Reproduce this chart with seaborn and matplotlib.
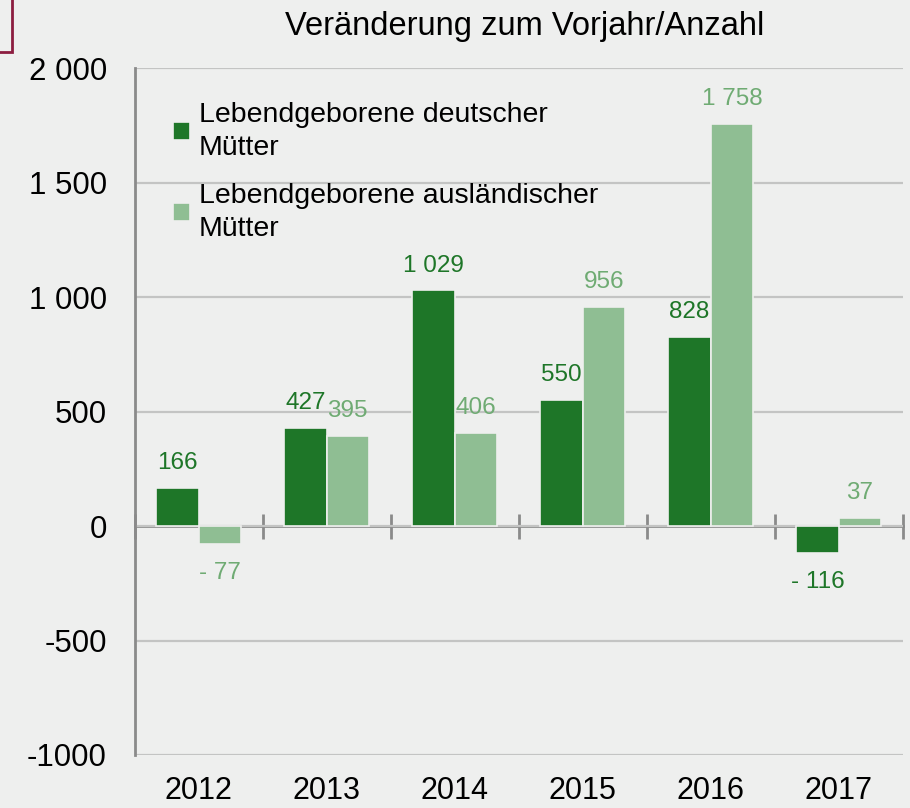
import matplotlib.pyplot as plt
import matplotlib.patches as mpatches
import pandas as pd
import seaborn as sns

# DATA
years = ['2012', '2013', '2014', '2015', '2016', '2017']
deutsche = [166, 427, 1029, 550, 828, -116]
auslaendische = [-77, 395, 406, 956, 1758, 37]
series_names = ['Lebendgeborene deutscher\nMütter', 'Lebendgeborene ausländischer\nMütter']
y_ticks = [-1000, -500, 0, 500, 1000, 1500, 2000]
y_tick_labels = ['-1000', '-500', '0', '500', '1 000', '1 500', '2 000']

BG = '#eeefee'
DARK = '#1e7628'
LIGHT = '#8fbe93'
LABEL_COLORS = [DARK, '#6fab73']


def fmt(v):
    s = f'{abs(v):,}'.replace(',', ' ')
    return f'- {s}' if v < 0 else s


data = pd.DataFrame({
    'Jahr': years * 2,
    'Wert': deutsche + auslaendische,
    'Serie': [series_names[0]] * len(years) + [series_names[1]] * len(years),
})

sns.set_style('white')
plt.rcParams['font.family'] = ['Liberation Sans', 'DejaVu Sans']
plt.rcParams['text.color'] = 'black'
plt.rcParams['xtick.color'] = 'black'
plt.rcParams['ytick.color'] = 'black'

fig = plt.figure(figsize=(9.10, 8.08), dpi=100, facecolor=BG)
ax = fig.add_axes([0.148, 0.0656, 0.844, 0.85])
ax.set_facecolor(BG)

sns.barplot(data=data, x='Jahr', y='Wert', hue='Serie', palette=[DARK, LIGHT], saturation=1,
            width=0.66, edgecolor=BG, linewidth=1.2, ax=ax, zorder=3)

# value labels
for container, color in zip(ax.containers, LABEL_COLORS):
    for bar in container:
        h = bar.get_height()
        cx = bar.get_x() + bar.get_width() / 2
        if h >= 0:
            ax.annotate(fmt(int(round(h))), (cx, h), xytext=(0, 10), textcoords='offset points',
                        ha='center', va='bottom', fontsize=17.5, color=color)
        else:
            ax.annotate(fmt(int(round(h))), (cx, h), xytext=(0, -13), textcoords='offset points',
                        ha='center', va='top', fontsize=17.5, color=color)

ax.set_ylim(-1000, 2000)
ax.set_xlim(-0.5, len(years) - 0.5)
ax.set_yticks(y_ticks)
ax.set_yticklabels(y_tick_labels)
ax.yaxis.grid(True, color='#c3c4c3', linewidth=1.6, zorder=0)
ax.set_axisbelow(True)

for side in ['top', 'right', 'bottom']:
    ax.spines[side].set_visible(False)
ax.spines['left'].set_color('#8a8a8a')
ax.spines['left'].set_linewidth(2)
ax.tick_params(axis='y', length=8, width=2, color='#8a8a8a', labelcolor='black', pad=12, labelsize=22.5)
ax.tick_params(axis='x', length=0, pad=15, labelcolor='black', labelsize=22)

# zero line with category separators
sec = ax.secondary_xaxis(0, transform=ax.transData)
sec.spines['bottom'].set_color('#8a8a8a')
sec.spines['bottom'].set_linewidth(2)
sec.set_xticks([i - 0.5 for i in range(len(years) + 1)])
sec.tick_params(axis='x', direction='inout', length=18, width=2, color='#8a8a8a', labelbottom=False)

ax.set_xlabel('')
ax.set_ylabel('')
ax.set_title('Veränderung zum Vorjahr/Anzahl', fontsize=23.5, pad=24, x=0.508, color='black')

leg = ax.legend(loc='upper left', bbox_to_anchor=(0.035, 0.968), frameon=False,
                fontsize=20.5, handlelength=0.6, handleheight=0.6, handletextpad=0.3,
                labelspacing=0.75, borderaxespad=0)
for t in leg.get_texts():
    t.set_linespacing(1.38)
    t.set_color('black')

# red frame corner top-left
fig.add_artist(mpatches.Rectangle((-0.01, 1 - 52 / 808), 0.0235, 0.1, transform=fig.transFigure,
                                  fill=False, edgecolor='#8c1d40', linewidth=2))

plt.savefig('out.png', dpi=100, facecolor=BG)
